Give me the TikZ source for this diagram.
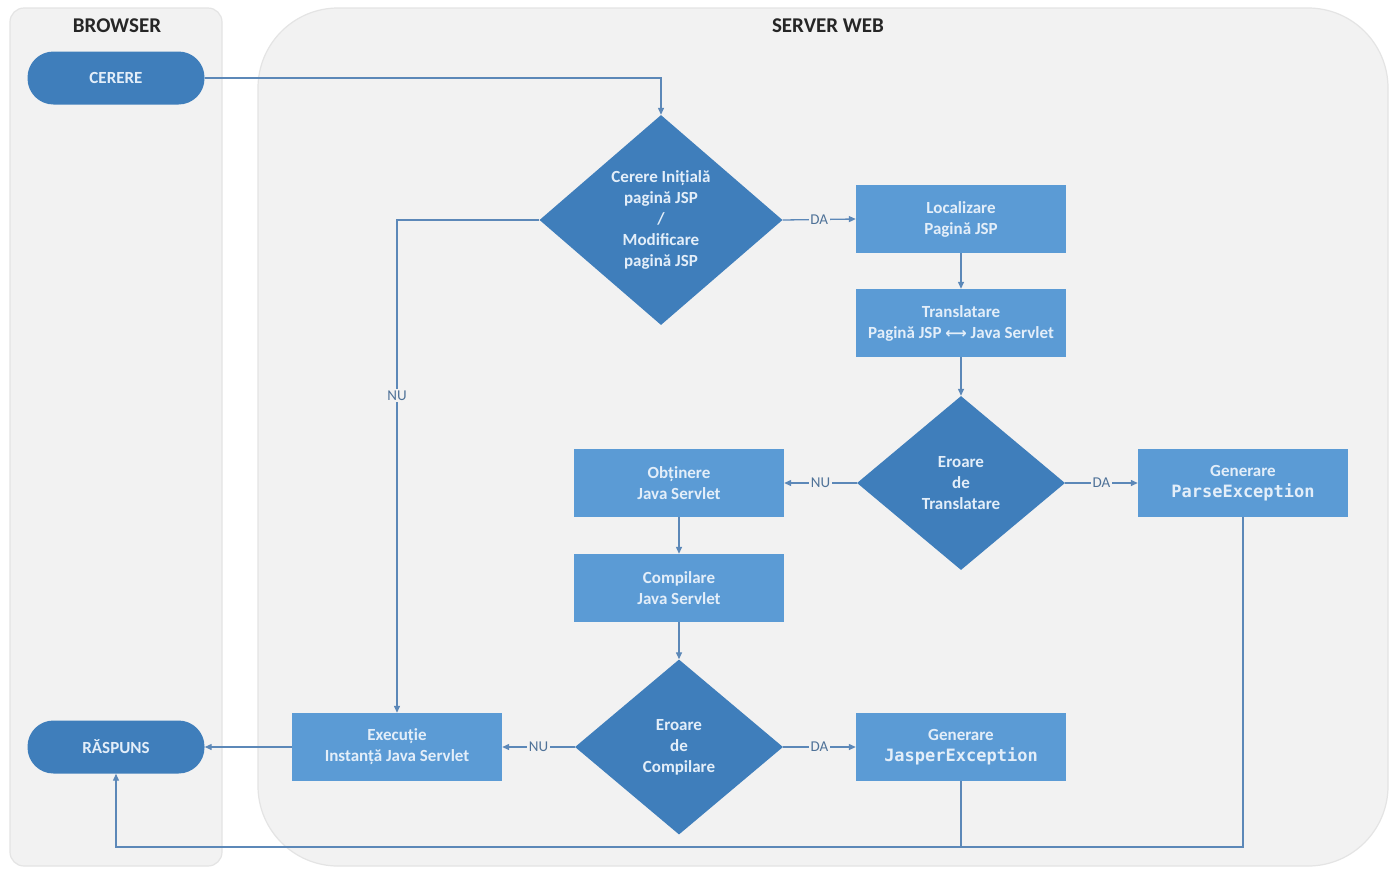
\documentclass[tikz,border=0pt]{standalone}
\usepackage{fontspec}
\setmainfont{Carlito}
\newfontfamily\monofont{DejaVu Sans Mono}
\newfontfamily\symfont{DejaVu Sans}
\usetikzlibrary{shapes.geometric,arrows.meta}
\definecolor{lanefill}{HTML}{F2F2F2}
\definecolor{laneline}{HTML}{E4E4E4}
\definecolor{darkblue}{HTML}{3F7EBB}
\definecolor{midblue}{HTML}{5B9BD5}
\definecolor{nodetext}{HTML}{E3EEF9}
\definecolor{wire}{HTML}{5C88B8}
\definecolor{labeltext}{HTML}{4F7298}
\definecolor{titletext}{HTML}{262626}
\begin{document}
\begin{tikzpicture}[x=1pt,y=-1pt,
  lane/.style={fill=lanefill,draw=laneline,line width=1.2pt},
  lanetitle/.style={font=\fontsize{21}{24}\selectfont\bfseries,text=titletext},
  terminal/.style={fill=darkblue,draw=none,rounded corners=26pt,minimum width=177pt,minimum height=53pt,
    text=nodetext,font=\fontsize{17}{20}\selectfont\bfseries},
  process/.style={fill=midblue,draw=none,minimum width=210pt,minimum height=68pt,align=center,
    text=nodetext,font=\fontsize{17}{21}\selectfont\bfseries},
  decision/.style={diamond,fill=darkblue,draw=none,inner sep=0pt,align=center,
    text=nodetext,font=\fontsize{17}{21}\selectfont\bfseries},
  wirestyle/.style={draw=wire,line width=1.3pt,-{Triangle[length=7pt,width=6pt]}},
  plainwire/.style={draw=wire,line width=1.3pt},
  edgelabel/.style={fill=lanefill,inner sep=1.5pt,text=labeltext,font=\fontsize{15}{17}\selectfont}
]
\useasboundingbox (0,0) rectangle (1391,871);
\fill[white] (0,0) rectangle (1391,871);

% swim lanes
\draw[lane,rounded corners=14pt] (10,8) rectangle (222,866);
\draw[lane,rounded corners=80pt] (258,8) rectangle (1388,866);
\node[lanetitle] (tbrowser) at (117,26) {BROWSER};
\node[lanetitle] (tserver) at (828,26) {SERVER WEB};

% browser side
\node[terminal] (cerere) at (116,78) {CERERE};
\node[terminal] (raspuns) at (116,747) {RĂSPUNS};

% server side
\node[decision,minimum width=243pt,minimum height=210pt] (d1) at (661,220)
  {Cerere Inițială\\pagină JSP\\/\\Modificare\\pagină JSP};
\node[process] (loc) at (961,219) {Localizare\\Pagină JSP};
\node[process] (trans) at (961,323) {Translatare\\Pagină JSP {\symfont\fontsize{15}{21}\selectfont ⟷} Java Servlet};
\node[decision,minimum width=208pt,minimum height=174pt] (d2) at (961,483)
  {Eroare\\de\\Translatare};
\node[process] (obt) at (679,483) {Obținere\\Java Servlet};
\node[process] (comp) at (679,588) {Compilare\\Java Servlet};
\node[decision,minimum width=208pt,minimum height=175pt] (d3) at (679,747)
  {Eroare\\de\\Compilare};
\node[process] (parse) at (1243,483) {Generare\\{\monofont\fontsize{17}{21}\selectfont ParseException}};
\node[process] (jasper) at (961,747) {Generare\\{\monofont\fontsize{17}{21}\selectfont JasperException}};
\node[process] (exec) at (397,747) {Execuție\\Instanță Java Servlet};

\coordinate (retjoin) at (961,847);
\coordinate (retcorner) at (116,847);

% connectors
\draw[wirestyle] (cerere.east) -| (d1.north);
\draw[wirestyle] (d1.east) -- node[edgelabel] {DA} (loc.west);
\draw[wirestyle] (d1.west) -| node[edgelabel,pos=0.678] {NU} (exec.north);
\draw[wirestyle] (loc.south) -- (trans.north);
\draw[wirestyle] (trans.south) -- (d2.north);
\draw[wirestyle] (d2.west) -- node[edgelabel] {NU} (obt.east);
\draw[wirestyle] (d2.east) -- node[edgelabel] {DA} (parse.west);
\draw[wirestyle] (obt.south) -- (comp.north);
\draw[wirestyle] (comp.south) -- (d3.north);
\draw[wirestyle] (d3.west) -- node[edgelabel] {NU} (exec.east);
\draw[wirestyle] (d3.east) -- node[edgelabel] {DA} (jasper.west);
\draw[wirestyle] (exec.west) -- (raspuns.east);
\draw[wirestyle] (parse.south) |- (retcorner) -- (raspuns.south);
\draw[plainwire] (jasper.south) -- (retjoin);
\end{tikzpicture}
\end{document}
